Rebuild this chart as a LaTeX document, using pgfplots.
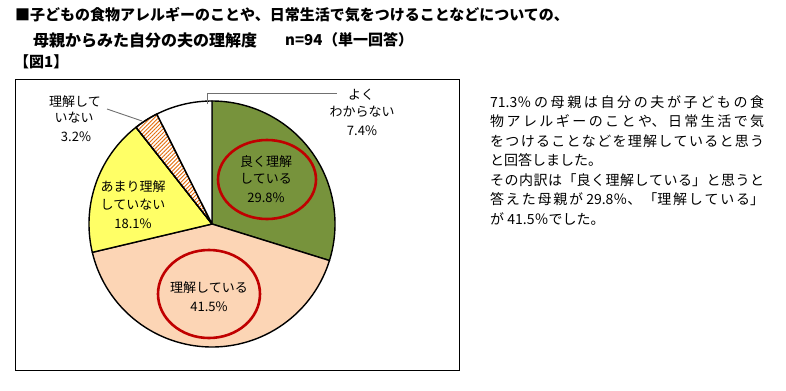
\documentclass[border=0pt]{standalone}
\usepackage{pgfplots}
\pgfplotsset{compat=1.18}
\usepackage{pgfplotstable}
\usetikzlibrary{patterns.meta}
\usepackage{fontspec}
\setmainfont{Noto Sans CJK JP}
\XeTeXlinebreaklocale "ja"
\XeTeXlinebreakskip=0pt plus 1fil
\definecolor{pgreen}{HTML}{77933C}
\definecolor{ppeach}{HTML}{FCD5B5}
\definecolor{pyellow}{HTML}{FFFF66}
\definecolor{phatch}{HTML}{E46C0A}
\definecolor{pred}{HTML}{C00000}
\definecolor{leader}{HTML}{707070}

\pgfplotstableread{
key value
good 29.8
ok 41.5
notmuch 18.1
not 3.2
unknown 7.4
}\piedata

\newcommand\getv[2]{\pgfplotstablegetelem{#1}{value}\of\piedata\let#2\pgfplotsretval}
\newcommand\fs[1]{\fontsize{#1bp}{#1bp}\selectfont}
\newcommand\jline[1]{\noindent\parfillskip=0pt\relax #1\par}

\begin{document}
\begin{tikzpicture}
\getv{0}\vA \getv{1}\vB \getv{2}\vC \getv{3}\vD \getv{4}\vE
\pgfmathsetmacro\aA{0}
\pgfmathsetmacro\aB{\aA+3.6*\vA}
\pgfmathsetmacro\aC{\aB+3.6*\vB}
\pgfmathsetmacro\aD{\aC+3.6*\vC}
\pgfmathsetmacro\aE{\aD+3.6*\vD}
\pgfmathsetmacro\aF{\aE+3.6*\vE}
\begin{axis}[
  at={(0,0)}, anchor=south west,
  width=786bp, height=391bp, scale only axis,
  xmin=0, xmax=786, ymin=0, ymax=391, y dir=reverse,
  hide axis, clip=false,
]
\path (axis cs:0,0) rectangle (axis cs:786,391);
% frame
\draw[black, line width=0.8bp] (axis cs:15,79) rectangle (axis cs:459,370);
% sectors
\addplot[fill=pgreen, draw=black, line width=1.4bp, line join=round, domain=\aA:\aB, samples=120, variable=\t]
  ({212+123*sin(\t)},{224-123*cos(\t)}) -- (axis cs:212,224) -- cycle;
\addplot[fill=ppeach, draw=black, line width=1.4bp, line join=round, domain=\aB:\aC, samples=120, variable=\t]
  ({212+123*sin(\t)},{224-123*cos(\t)}) -- (axis cs:212,224) -- cycle;
\addplot[fill=pyellow, draw=black, line width=1.4bp, line join=round, domain=\aC:\aD, samples=120, variable=\t]
  ({212+123*sin(\t)},{224-123*cos(\t)}) -- (axis cs:212,224) -- cycle;
\addplot[fill=white, postaction={pattern={Lines[angle=45, distance=2.8bp, line width=0.9bp]}, pattern color=phatch}, draw=black, line width=1.4bp, line join=round, domain=\aD:\aE, samples=40, variable=\t]
  ({212+123*sin(\t)},{224-123*cos(\t)}) -- (axis cs:212,224) -- cycle;
\addplot[fill=white, draw=black, line width=1.4bp, line join=round, domain=\aE:\aF, samples=60, variable=\t]
  ({212+123*sin(\t)},{224-123*cos(\t)}) -- (axis cs:212,224) -- cycle;
% red ellipses
\draw[pred, line width=2.6bp] (axis cs:267,179.5) ellipse [x radius=49bp, y radius=39.5bp];
\draw[pred, line width=2.6bp] (axis cs:209,294) ellipse [x radius=51bp, y radius=44bp];
% leader lines
\draw[leader, line width=0.9bp] (axis cs:207,104) -- (axis cs:207,93) -- (axis cs:337,93);
\draw[leader, line width=0.9bp] (axis cs:107,109) -- (axis cs:142,121);
% slice labels
\begin{scope}[every node/.style={font=\fs{13}, inner sep=0pt}]
\node at (axis cs:266,162) {良く理解};
\node at (axis cs:266,179) {している};
\node at (axis cs:266,198) {29.8\%};
\node at (axis cs:209,288) {理解している};
\node at (axis cs:209,307) {41.5\%};
\node at (axis cs:133,187) {あまり理解};
\node at (axis cs:133,205) {していない};
\node at (axis cs:133,224) {18.1\%};
\node at (axis cs:75,102) {理解して};
\node at (axis cs:74,118) {いない};
\node at (axis cs:76,137) {3.2\%};
\node at (axis cs:361,95) {よく};
\node at (axis cs:362,112) {わからない};
\node at (axis cs:362,131) {7.4\%};
\end{scope}
% title
\begin{scope}[every node/.style={font=\fs{15}\bfseries, inner sep=0pt, anchor=west}]
\node at (axis cs:15,15) {■子どもの食物アレルギーのことや、日常生活で気をつけることなどについての、};
\node[font=\fs{16}\bfseries] at (axis cs:33,40) {母親からみた自分の夫の理解度};
\node at (axis cs:285,40) {n=94};
\node at (axis cs:323,40) {（単一回答）};
\node at (axis cs:14,62) {【図1】};
\end{scope}
% right text
\begin{scope}[every node/.style={font=\fs{14}, inner sep=0pt, anchor=west, text width=274bp, align=justify}]
\node at (axis cs:490,102) {\jline{71.3％の母親は自分の夫が子どもの食}};
\node at (axis cs:490,121.5) {\jline{物アレルギーのことや、日常生活で気}};
\node at (axis cs:490,141) {\jline{をつけることなどを理解していると思う}};
\node at (axis cs:490,160.5) {\noindent\mbox{と回答しました。}};
\node at (axis cs:490,180) {\jline{その内訳は「良く理解している」と思うと}};
\node at (axis cs:490,199.5) {\jline{答えた母親が 29.8％、「理解している」}};
\node at (axis cs:490,219) {\noindent\mbox{が 41.5％でした。}};
\end{scope}
\end{axis}
\end{tikzpicture}
\end{document}
